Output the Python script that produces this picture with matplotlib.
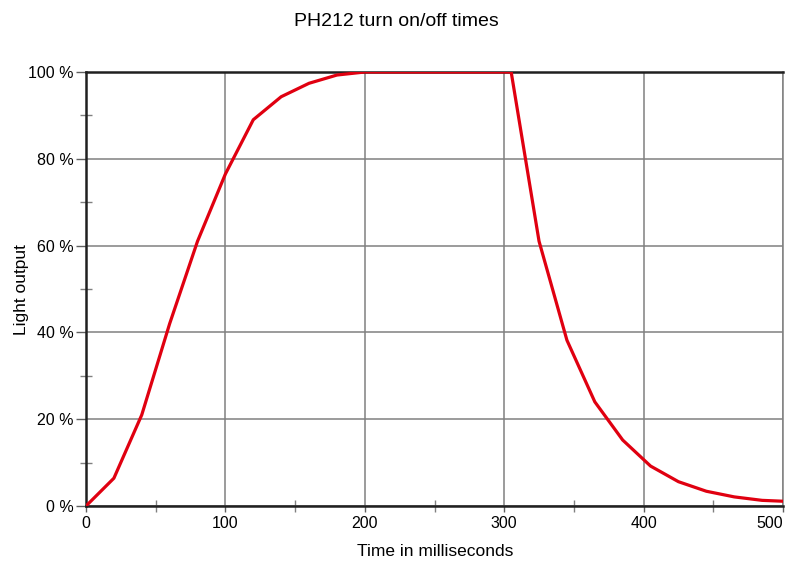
import matplotlib
matplotlib.use("Agg")
import matplotlib.pyplot as plt
from matplotlib.ticker import MultipleLocator, FuncFormatter

plt.rcParams['font.family'] = ['Liberation Sans', 'DejaVu Sans']

time_ms = [0, 20, 40, 60, 80, 100, 120, 140, 160, 180, 200, 300,
           305, 325, 345, 365, 385, 405, 425, 445, 465, 485, 500]
light_pct = [0, 6.4, 21, 42, 61, 76.5, 89, 94.3, 97.4, 99.3, 100, 100,
             100, 61, 38.2, 24, 15.2, 9.2, 5.6, 3.4, 2.1, 1.3, 1.1]
x_ticks = [0, 100, 200, 300, 400, 500]
x_tick_labels = ["0", "100", "200", "300", "400", "500"]

title = "PH212 turn on/off times"
xlabel = "Time in milliseconds"
ylabel = "Light output"

fig = plt.figure(figsize=(7.93, 5.66), dpi=100)
ax = fig.add_axes([86/793, 60/566, 697/793, 434/566])

ax.plot(time_ms, light_pct, color='#e00010', lw=2.3, zorder=3,
        solid_joinstyle='round')

ax.set_xlim(0, 500)
ax.set_ylim(0, 100)
ax.set_xticks(x_ticks, x_tick_labels)
ax.xaxis.set_minor_locator(MultipleLocator(50))
ax.yaxis.set_major_locator(MultipleLocator(20))
ax.yaxis.set_minor_locator(MultipleLocator(10))
ax.yaxis.set_major_formatter(FuncFormatter(lambda v, p: f"{int(v)} %"))

ax.grid(True, which='major', color='#808080', lw=1.1)
ax.set_axisbelow(True)

for s in ['left', 'bottom', 'top']:
    ax.spines[s].set_color('#202020')
    ax.spines[s].set_linewidth(1.8)
ax.spines['right'].set_color('#808080')
ax.spines['right'].set_linewidth(1.1)

ax.tick_params(axis='x', which='major', direction='out', length=4.5, width=1.0,
               color='#606060', labelsize=11.5, pad=3)
ax.tick_params(axis='y', which='major', direction='out', length=7, width=1.0,
               color='#606060', labelsize=11.5, pad=2)
ax.tick_params(which='minor', direction='inout', length=8, width=1.0,
               color='#808080')

ax.get_xticklabels()[-1].set_horizontalalignment('right')

fig.text(0.5, 1 - 21/566, title, fontsize=14, ha='center', va='center')
fig.text(435/793, 1 - 551/566, xlabel, fontsize=12.5, ha='center', va='center')
fig.text(22/793, 1 - 290/566, ylabel, fontsize=12.5, ha='center', va='center',
         rotation=90)

fig.savefig("out.png", dpi=100)
